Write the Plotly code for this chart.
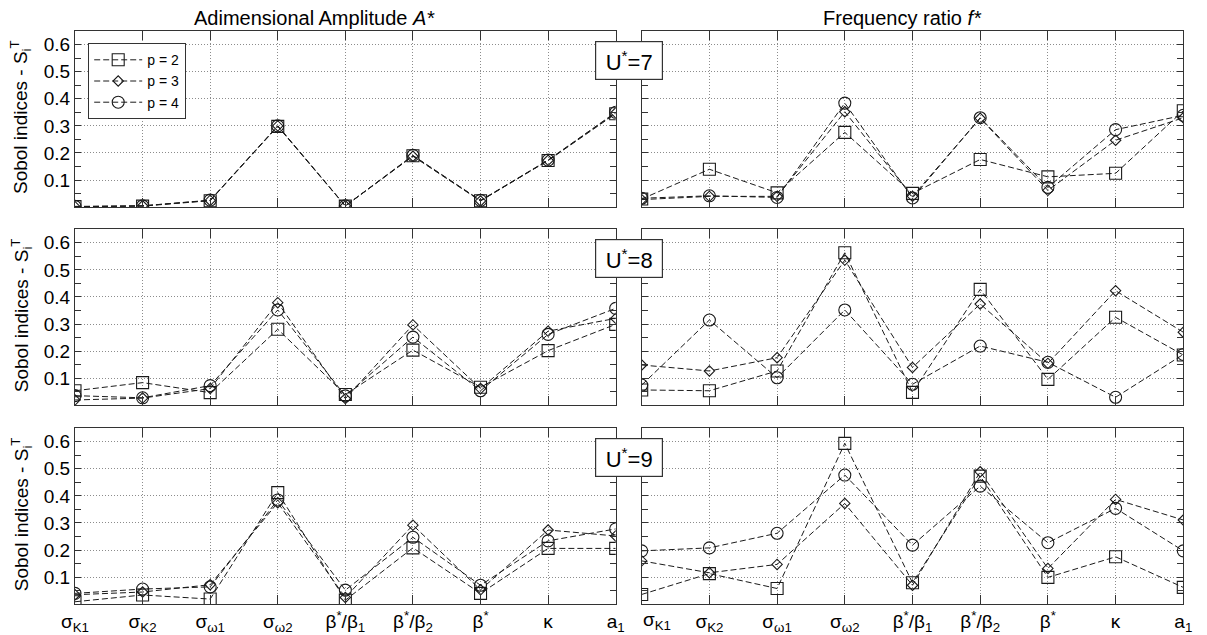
import plotly.graph_objects as go

# Input parameters (x categories)
params = ["σ<sub>K1</sub>", "σ<sub>K2</sub>", "σ<sub>ω1</sub>", "σ<sub>ω2</sub>",
          "β<sup>*</sup>/β<sub>1</sub>", "β<sup>*</sup>/β<sub>2</sub>", "β<sup>*</sup>",
          "κ", "a<sub>1</sub>"]
orders = ["p = 2", "p = 3", "p = 4"]
reduced_velocity = [7, 8, 9]
y_ticks = [0.1, 0.2, 0.3, 0.4, 0.5, 0.6]

# Total Sobol indices, adimensional amplitude A*
amp_u7_p2 = [0.002, 0.004, 0.024, 0.298, 0.004, 0.190, 0.024, 0.172, 0.345]
amp_u7_p3 = [0.002, 0.005, 0.025, 0.300, 0.005, 0.188, 0.023, 0.173, 0.348]
amp_u7_p4 = [0.003, 0.005, 0.026, 0.300, 0.005, 0.191, 0.025, 0.174, 0.350]

amp_u8_p2 = [0.054, 0.084, 0.047, 0.281, 0.040, 0.204, 0.067, 0.202, 0.299]
amp_u8_p3 = [0.020, 0.027, 0.062, 0.379, 0.025, 0.297, 0.062, 0.274, 0.321]
amp_u8_p4 = [0.036, 0.028, 0.073, 0.352, 0.035, 0.252, 0.054, 0.262, 0.358]

amp_u9_p2 = [0.009, 0.034, 0.019, 0.412, 0.015, 0.208, 0.040, 0.206, 0.206]
amp_u9_p3 = [0.035, 0.045, 0.072, 0.375, 0.025, 0.292, 0.053, 0.274, 0.252]
amp_u9_p4 = [0.040, 0.056, 0.064, 0.385, 0.052, 0.247, 0.070, 0.234, 0.278]

# Total Sobol indices, frequency ratio f*
freq_u7_p2 = [0.030, 0.140, 0.053, 0.276, 0.051, 0.176, 0.112, 0.125, 0.356]
freq_u7_p3 = [0.028, 0.040, 0.040, 0.352, 0.040, 0.328, 0.062, 0.247, 0.330]
freq_u7_p4 = [0.033, 0.042, 0.036, 0.384, 0.034, 0.330, 0.073, 0.286, 0.339]

freq_u8_p2 = [0.057, 0.054, 0.127, 0.563, 0.048, 0.428, 0.096, 0.325, 0.186]
freq_u8_p3 = [0.149, 0.127, 0.176, 0.536, 0.140, 0.374, 0.155, 0.423, 0.270]
freq_u8_p4 = [0.075, 0.315, 0.102, 0.352, 0.078, 0.219, 0.159, 0.030, 0.188]

freq_u9_p2 = [0.036, 0.113, 0.058, 0.594, 0.079, 0.473, 0.099, 0.175, 0.062]
freq_u9_p3 = [0.160, 0.116, 0.147, 0.372, 0.070, 0.489, 0.132, 0.387, 0.311]
freq_u9_p4 = [0.197, 0.208, 0.262, 0.477, 0.218, 0.436, 0.227, 0.354, 0.197]

amp_rows = [[amp_u7_p2, amp_u7_p3, amp_u7_p4],
            [amp_u8_p2, amp_u8_p3, amp_u8_p4],
            [amp_u9_p2, amp_u9_p3, amp_u9_p4]]
freq_rows = [[freq_u7_p2, freq_u7_p3, freq_u7_p4],
             [freq_u8_p2, freq_u8_p3, freq_u8_p4],
             [freq_u9_p2, freq_u9_p3, freq_u9_p4]]

W, H = 1207, 635
FONT = "Liberation Sans, Arial, Helvetica, sans-serif"
INK = "#1a1a1a"
AXIS = "#333333"
GRID = "#8c8c8c"
symbols = ["square-open", "diamond-open", "circle-open"]
sizes = [12, 8, 12]
dash = "6px,3px"

# panel geometry in pixels
col_x = [(75, 615.7), (641.7, 1183.3)]
row_y = [(31, 207.2), (229.2, 405.4), (428.2, 604.2)]


def px_x(v):
    return v / W


def px_y(v):
    return 1 - v / H


# right-hand column: its first label is drawn separately, nudged off the border
right_labels = [""] + params[1:]

fig = go.Figure()
layout_axes = {}
idx = 0
for r in range(3):
    for c in range(2):
        idx += 1
        xa = "x" if idx == 1 else f"x{idx}"
        ya = "y" if idx == 1 else f"y{idx}"
        data = amp_rows[r] if c == 0 else freq_rows[r]
        for k in range(3):
            fig.add_trace(go.Scatter(
                x=params, y=data[k], xaxis=xa, yaxis=ya,
                mode="lines+markers", name=orders[k],
                showlegend=(idx == 1), legendgroup=orders[k],
                line=dict(color=INK, width=1, dash=dash),
                marker=dict(symbol=symbols[k], size=sizes[k], color=INK,
                            line=dict(color=INK, width=1.1)),
            ))
        xkey = "xaxis" if idx == 1 else f"xaxis{idx}"
        ykey = "yaxis" if idx == 1 else f"yaxis{idx}"
        layout_axes[xkey] = dict(
            domain=[px_x(col_x[c][0]), px_x(col_x[c][1])],
            anchor=ya, type="category", categoryorder="array",
            categoryarray=params, range=[0, 8], automargin=False,
            tickmode="array", tickvals=params,
            ticktext=params if c == 0 else right_labels,
            showline=True, linecolor=AXIS, linewidth=1.3, mirror="ticks",
            ticks="inside", ticklen=9, tickcolor=AXIS, tickwidth=1.2,
            showgrid=True, gridcolor=GRID, griddash="1px,2px", gridwidth=1,
            showticklabels=(r == 2),
            tickfont=dict(family=FONT, size=19, color="black"),
            zeroline=False, fixedrange=True,
        )
        layout_axes[ykey] = dict(
            domain=[px_y(row_y[r][1]), px_y(row_y[r][0])],
            anchor=xa, range=[0, 0.65], automargin=False,
            tickmode="array", tickvals=y_ticks,
            ticktext=[f"{v:.1f}" for v in y_ticks],
            showline=True, linecolor=AXIS, linewidth=1.3, mirror="ticks",
            ticks="inside", ticklen=6, tickcolor=AXIS, tickwidth=1.2,
            minor=dict(tickmode="linear", tick0=0.05, dtick=0.1, ticks="inside",
                       ticklen=6, tickcolor=AXIS, tickwidth=1.2, showgrid=False),
            showgrid=True, gridcolor=GRID, griddash="1px,2px", gridwidth=1,
            showticklabels=(c == 0),
            tickfont=dict(family=FONT, size=19, color="black"),
            zeroline=False, fixedrange=True,
        )

annotations = [
    dict(text="Adimensional Amplitude <i>A*</i>", x=px_x(314), y=px_y(18),
         xref="paper", yref="paper", xanchor="center", yanchor="middle",
         showarrow=False, font=dict(family=FONT, size=20, color="black")),
    dict(text="Frequency ratio <i>f*</i>", x=px_x(902), y=px_y(18),
         xref="paper", yref="paper", xanchor="center", yanchor="middle",
         showarrow=False, font=dict(family=FONT, size=20, color="black")),
    # first category label of the right-hand bottom panel
    dict(text=params[0], x=px_x(641), y=px_y(621), xref="paper", yref="paper",
         xanchor="left", yanchor="middle", showarrow=False,
         font=dict(family=FONT, size=19, color="black")),
]
for r, u in enumerate(reduced_velocity):
    # y-axis title for each row
    annotations.append(dict(
        text="Sobol indices - S<sub>i</sub><sup>T</sup>", textangle=-90,
        x=px_x(21), y=px_y(row_y[r][0] + 86),
        xref="paper", yref="paper", xanchor="center", yanchor="middle",
        showarrow=False, font=dict(family=FONT, size=19, color="black"),
    ))
    # reduced-velocity label box
    annotations.append(dict(
        text=f"U<sup>*</sup>={u}", x=px_x(629), y=px_y(row_y[r][0] + 29.5),
        xref="paper", yref="paper", xanchor="center", yanchor="middle",
        showarrow=False, width=58, height=29, align="center", valign="middle",
        font=dict(family=FONT, size=22, color="black"),
        bgcolor="white", bordercolor=AXIS, borderwidth=1.2, borderpad=4,
    ))

fig.update_layout(
    width=W, height=H, margin=dict(l=0, r=0, t=0, b=0, autoexpand=False),
    paper_bgcolor="white", plot_bgcolor="white",
    font=dict(family=FONT, color="black"),
    annotations=annotations,
    legend=dict(x=px_x(88), y=px_y(43), xanchor="left", yanchor="top",
                bgcolor="white", bordercolor=AXIS, borderwidth=1.2,
                font=dict(family=FONT, size=14, color="black"),
                tracegroupgap=0, itemwidth=48),
    **layout_axes,
)

fig.write_html("out.html")
